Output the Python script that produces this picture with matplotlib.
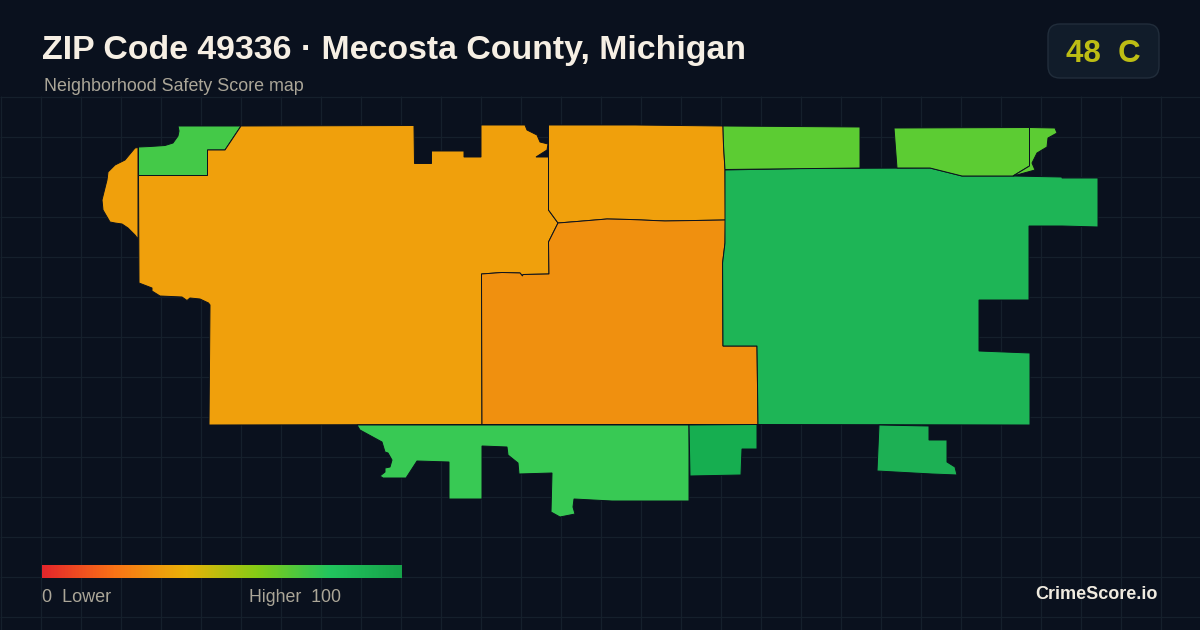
import numpy as np
import matplotlib
matplotlib.use('Agg')
import matplotlib.pyplot as plt
from matplotlib.colors import LinearSegmentedColormap
from matplotlib.patches import FancyBboxPatch, Polygon

plt.rcParams['font.family'] = ['Liberation Sans', 'DejaVu Sans']

title = 'ZIP Code 49336 · Mecosta County, Michigan'
subtitle = 'Neighborhood Safety Score map'
badge_text = '48  C'
brand = 'CrimeScore.io'

# outlines, in picture pixels
nw_green = [(178, 126), (241, 126), (225, 150), (207.5, 150), (207.5, 175.5), (138.5, 175.5),
            (138.5, 147), (150, 146.5), (165, 145.5), (173, 143), (178, 136), (179, 131)]
west_sliver = [(138, 147.5), (135, 148), (125, 160), (115, 165), (108, 172), (107, 180), (102, 200),
               (103, 210), (110, 222), (115, 223), (122, 224), (128, 228), (135, 235), (138, 239)]
west_orange = [(241, 126), (414, 125.5), (414.5, 163.5), (431.5, 163.5), (431.5, 151), (464, 151),
               (464, 157), (481, 157), (481, 125), (525, 125), (527, 130), (537, 135), (540, 142),
               (548, 144), (547, 150), (536, 157), (548.5, 157), (548.5, 210), (558, 223),
               (548.5, 242), (549, 274), (523, 274.5), (522.5, 276), (520, 273), (502, 272.5),
               (481.5, 274), (482, 424.5), (209, 425), (210, 305), (208.5, 303), (200, 299),
               (190, 298), (187, 300.5), (182, 297), (160, 296), (152, 291), (152, 288),
               (139, 283), (138.5, 175.5), (207.5, 175.5), (207.5, 150), (225, 150)]
north_orange = [(548.5, 125), (635, 125), (723, 126), (723.5, 145), (725, 170), (725.5, 220),
                (665, 221), (630, 219.5), (607, 219), (577, 221.5), (558, 223), (548.5, 210)]
center_orange = [(558, 223), (577, 221.5), (607, 219), (630, 219.5), (665, 221), (725.5, 220),
                 (725, 243), (722.6, 263), (723, 346), (757, 346), (758, 424.5), (482, 424.5),
                 (481.5, 274), (502, 272.5), (520, 273), (522.5, 276), (523, 274.5), (549, 274),
                 (548.5, 242)]
east_green = [(725, 170), (800, 168.5), (930, 168), (962, 176), (1013, 176), (1062, 177), (1062, 178),
              (1098, 178), (1098, 227), (1062, 226), (1029, 226), (1029, 300), (979, 300), (979, 351),
              (1030, 353), (1030, 425), (758, 424.5), (757, 346), (723, 346), (722.6, 263), (725, 243)]
north_lime = [(723, 126), (860, 127), (860, 168), (725, 169.5), (723.5, 145)]
ne_lime = [(894, 128), (1029.5, 127.5), (1029.5, 166), (1013, 176), (962, 176), (930, 168), (897, 168)]
ne_tip = [(1029.5, 127.5), (1055, 128), (1057, 133), (1048, 138), (1047, 147), (1037, 153), (1032, 163),
          (1035, 170), (1013, 176), (1029.5, 166)]
south_green = [(357, 425), (360, 430), (382, 442), (385, 452), (388, 453), (392, 460), (390, 467),
               (385, 468), (385, 472), (380, 476), (383, 478), (406, 478), (417, 461), (449, 462),
               (449, 499), (482, 499), (482, 446), (507, 447), (508, 455), (518, 463), (519, 474),
               (552, 473), (551, 512), (560, 517), (575, 514), (573, 507), (574, 499), (612, 501),
               (689, 501), (689, 425)]
south_dark = [(689, 425), (757, 424.5), (757, 449), (742, 449), (741, 475), (690, 476)]
se_green = [(879, 425), (929, 426), (929, 440), (947, 440), (947, 462), (955, 467), (957, 475),
            (932, 474), (877, 471)]

regions = [nw_green, west_sliver, west_orange, north_orange, center_orange, east_green,
           north_lime, ne_lime, ne_tip, south_green, south_dark, se_green]
region_colors = ['#44C948', '#F0A00C', '#F0A00C', '#F0A00C', '#F0900F', '#1EB556',
                 '#5CCC33', '#5CCC33', '#5CCC33', '#38C954', '#16AE50', '#1DB054']

legend_colors = ['#E5262B', '#F97316', '#EAB308', '#84CC16', '#22C55E', '#16A34A']

bg = '#0A111E'
fig = plt.figure(figsize=(12, 6.3), dpi=100, facecolor=bg)
ax = fig.add_axes([0, 0, 1, 1])
ax.set_xlim(0, 1200)
ax.set_ylim(630, 0)
ax.axis('off')

# background grid, only below the header
ax.vlines(np.arange(0.5, 1201, 40), 96, 630, color='#15202C', lw=0.9, zorder=1)
ax.hlines(np.arange(96.5, 630, 40), 0, 1200, color='#15202C', lw=0.9, zorder=1)

for pts, c in zip(regions, region_colors):
    ax.add_patch(Polygon(pts, closed=True, facecolor=c, edgecolor='#0A111E', lw=0.7,
                         joinstyle='miter', zorder=2))

ax.text(42, 59, title, color='#F6EFE4', fontsize=24.4, fontweight='bold', zorder=5)
ax.text(44, 91, subtitle, color='#ABA698', fontsize=12.9, zorder=5)

ax.add_patch(FancyBboxPatch((1060, 36), 87, 30, boxstyle='round,pad=12,rounding_size=12',
                            facecolor='#111C2A', edgecolor='#212D3B', lw=1, zorder=4))
ax.text(1103, 62, badge_text, color='#BDBD14', fontsize=22.5, fontweight='bold', ha='center', zorder=5)

# legend bar
cmap = LinearSegmentedColormap.from_list('score', legend_colors)
ax.imshow(np.linspace(0, 1, 360).reshape(1, -1), cmap=cmap, extent=(42, 402, 578, 565),
          aspect='auto', zorder=3)
ax.set_xlim(0, 1200)
ax.set_ylim(630, 0)
ax.text(42, 602, '0  Lower', color='#ABA698', fontsize=13, zorder=5)
ax.text(249, 602, 'Higher  100', color='#ABA698', fontsize=12.8, zorder=5)
ax.text(1158, 599, brand, color='#F0EBE0', fontsize=13, fontweight='bold', ha='right', zorder=5)

fig.savefig('out.png', dpi=100, facecolor=bg)
